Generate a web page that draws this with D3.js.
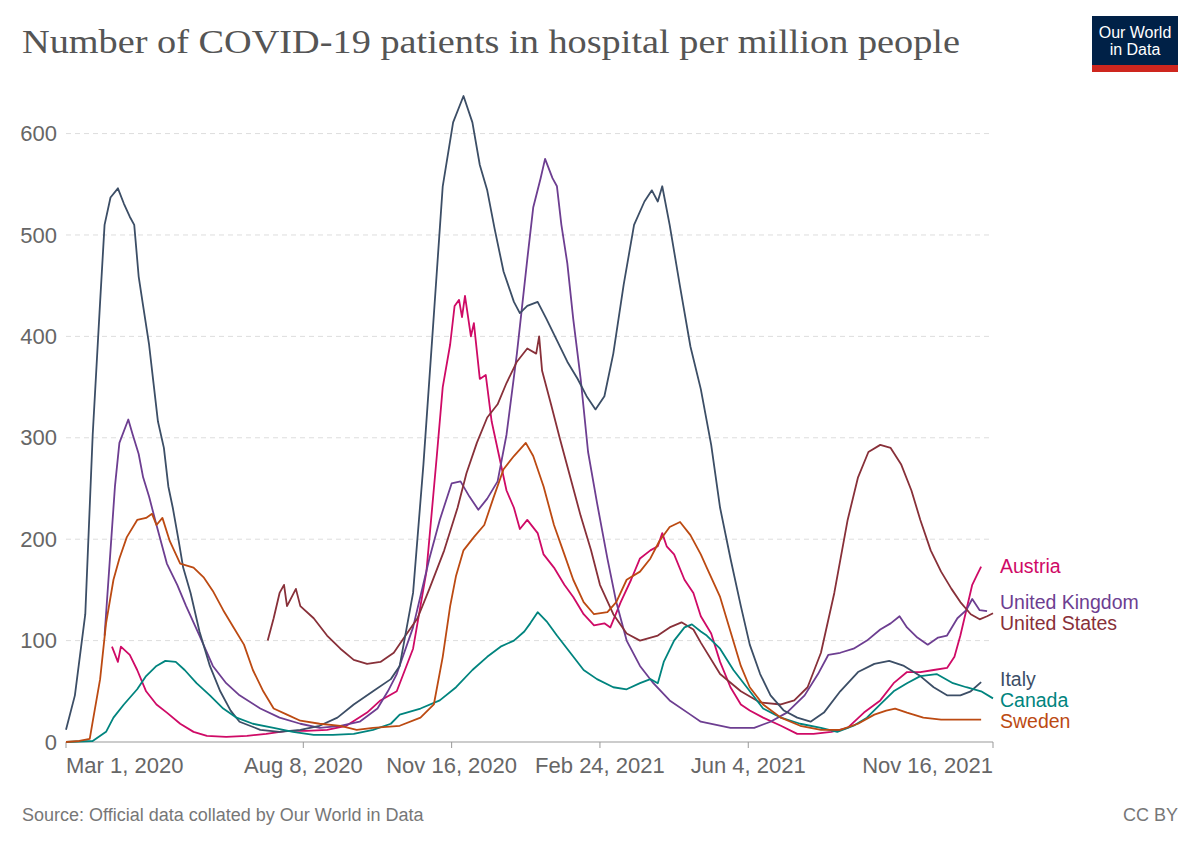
<!DOCTYPE html>
<html>
<head>
<meta charset="utf-8">
<script src="https://cdn.jsdelivr.net/npm/d3@7"></script>
<style>
  body { margin: 0; background: #fff; }
  text { font-family: "Liberation Sans", Arial, sans-serif; }
</style>
</head>
<body>
<div id="chart"></div>
<script>

// values: [date, patients in hospital per million]
var italy = [
  ["2020-03-01",12],["2020-03-07",46],["2020-03-14",126],["2020-03-19",303],["2020-03-24",434],
  ["2020-03-27",510],["2020-03-31",537],["2020-04-05",546],["2020-04-09",531],["2020-04-13",518],
  ["2020-04-16",510],["2020-04-19",459],["2020-04-22",430],["2020-04-26",392],["2020-04-29",354],
  ["2020-05-02",316],["2020-05-06",290],["2020-05-09",252],["2020-05-12",231],["2020-05-16",198],
  ["2020-05-19",172],["2020-05-24",147],["2020-05-30",109],["2020-06-06",75],["2020-06-13",50],
  ["2020-06-20",31],["2020-06-26",20],["2020-07-10",12],["2020-07-23",10],["2020-08-06",12],
  ["2020-08-19",16],["2020-08-31",24],["2020-09-11",37],["2020-09-24",50],["2020-10-06",62],
  ["2020-10-12",75],["2020-10-21",147],["2020-10-28",274],["2020-11-04",421],["2020-11-10",548],
  ["2020-11-17",611],["2020-11-24",637],["2020-11-30",611],["2020-12-05",569],["2020-12-10",544],
  ["2020-12-15",506],["2020-12-21",464],["2020-12-28",434],["2021-01-01",423],["2021-01-06",430],
  ["2021-01-13",434],["2021-01-19",417],["2021-01-26",396],["2021-02-02",375],["2021-02-09",358],
  ["2021-02-15",341],["2021-02-21",328],["2021-02-27",341],["2021-03-05",383],["2021-03-12",451],
  ["2021-03-19",510],["2021-03-26",533],["2021-03-31",544],["2021-04-04",533],["2021-04-07",548],
  ["2021-04-12",510],["2021-04-19",449],["2021-04-26",390],["2021-05-03",348],["2021-05-10",293],
  ["2021-05-16",231],["2021-05-23",181],["2021-05-30",134],["2021-06-05",96],["2021-06-12",67],
  ["2021-06-19",46],["2021-06-28",31],["2021-07-07",24],["2021-07-16",20],["2021-07-25",29],
  ["2021-08-05",50],["2021-08-17",69],["2021-08-28",77],["2021-09-07",80],["2021-09-17",75],
  ["2021-09-28",65],["2021-10-07",54],["2021-10-16",46],["2021-10-25",46],["2021-11-01",50],
  ["2021-11-08",59]
];

var unitedKingdom = [
  ["2020-03-27",105],["2020-03-31",189],["2020-04-03",252],["2020-04-06",295],["2020-04-12",318],
  ["2020-04-15",303],["2020-04-19",284],["2020-04-22",261],["2020-04-26",242],["2020-05-01",214],
  ["2020-05-08",176],["2020-05-15",155],["2020-05-21",134],["2020-05-30",105],["2020-06-08",75],
  ["2020-06-17",58],["2020-06-26",46],["2020-07-10",33],["2020-07-23",24],["2020-08-06",18],
  ["2020-08-19",14],["2020-09-02",16],["2020-09-15",20],["2020-09-27",33],["2020-10-04",50],
  ["2020-10-10",67],["2020-10-21",113],["2020-11-01",181],["2020-11-08",219],["2020-11-16",255],
  ["2020-11-22",257],["2020-11-28",242],["2020-12-04",229],["2020-12-10",240],["2020-12-17",257],
  ["2020-12-23",303],["2020-12-30",383],["2021-01-06",476],["2021-01-10",527],["2021-01-15",556],
  ["2021-01-18",575],["2021-01-23",556],["2021-01-26",548],["2021-01-29",510],["2021-02-02",472],
  ["2021-02-06",417],["2021-02-11",358],["2021-02-16",286],["2021-02-22",236],["2021-03-01",181],
  ["2021-03-07",138],["2021-03-14",100],["2021-03-23",75],["2021-04-01",58],["2021-04-12",41],
  ["2021-04-26",27],["2021-05-03",20],["2021-05-23",14],["2021-06-08",14],["2021-06-19",20],
  ["2021-06-30",29],["2021-07-12",46],["2021-07-21",67],["2021-07-28",86],["2021-08-05",88],
  ["2021-08-14",92],["2021-08-23",100],["2021-09-01",111],["2021-09-08",117],["2021-09-14",124],
  ["2021-09-19",113],["2021-09-26",103],["2021-10-03",96],["2021-10-10",103],["2021-10-16",105],
  ["2021-10-23",122],["2021-10-29",130],["2021-11-02",141],["2021-11-07",130],["2021-11-12",129]
];

var unitedStates = [
  ["2020-07-15",100],["2020-07-19",122],["2020-07-23",147],["2020-07-26",155],["2020-07-28",134],
  ["2020-08-03",151],["2020-08-06",134],["2020-08-15",122],["2020-08-24",105],["2020-09-02",92],
  ["2020-09-11",81],["2020-09-20",77],["2020-09-29",79],["2020-10-08",88],["2020-10-15",103],
  ["2020-10-24",122],["2020-11-01",151],["2020-11-11",189],["2020-11-20",231],["2020-11-26",265],
  ["2020-12-03",295],["2020-12-10",320],["2020-12-17",333],["2020-12-23",354],["2020-12-30",375],
  ["2021-01-06",388],["2021-01-12",383],["2021-01-14",400],["2021-01-16",366],["2021-01-22",333],
  ["2021-01-28",299],["2021-02-04",261],["2021-02-11",223],["2021-02-18",189],["2021-02-24",155],
  ["2021-03-05",126],["2021-03-14",107],["2021-03-23",100],["2021-04-04",105],["2021-04-12",113],
  ["2021-04-20",118],["2021-04-28",111],["2021-05-03",98],["2021-05-16",67],["2021-05-30",50],
  ["2021-06-12",39],["2021-06-26",37],["2021-07-05",41],["2021-07-14",54],["2021-07-23",88],
  ["2021-08-01",147],["2021-08-10",219],["2021-08-17",261],["2021-08-24",286],["2021-09-01",293],
  ["2021-09-08",290],["2021-09-15",274],["2021-09-22",248],["2021-09-28",219],["2021-10-05",189],
  ["2021-10-12",168],["2021-10-19",151],["2021-10-25",138],["2021-11-01",126],["2021-11-07",121],
  ["2021-11-12",124],["2021-11-16",127]
];

var austria = [
  ["2020-04-01",94],["2020-04-05",79],["2020-04-07",94],["2020-04-13",86],["2020-04-18",71],
  ["2020-04-24",50],["2020-05-01",37],["2020-05-08",29],["2020-05-17",18],["2020-05-26",10],
  ["2020-06-04",6],["2020-06-17",5],["2020-07-01",6],["2020-07-14",8],["2020-07-28",11],
  ["2020-08-10",11],["2020-08-24",12],["2020-09-06",16],["2020-09-20",29],["2020-09-29",41],
  ["2020-10-10",50],["2020-10-21",92],["2020-10-30",168],["2020-11-06",282],["2020-11-10",350],
  ["2020-11-15",392],["2020-11-18",430],["2020-11-21",436],["2020-11-23",419],["2020-11-25",440],
  ["2020-11-29",400],["2020-12-01",413],["2020-12-05",358],["2020-12-09",362],["2020-12-13",316],
  ["2020-12-18",282],["2020-12-23",248],["2020-12-28",231],["2021-01-01",210],["2021-01-06",219],
  ["2021-01-13",206],["2021-01-17",185],["2021-01-24",172],["2021-01-31",155],["2021-02-06",143],
  ["2021-02-13",126],["2021-02-20",115],["2021-02-27",117],["2021-03-03",113],["2021-03-10",138],
  ["2021-03-17",160],["2021-03-23",181],["2021-03-30",189],["2021-04-04",193],["2021-04-07",206],
  ["2021-04-10",193],["2021-04-15",185],["2021-04-22",160],["2021-04-28",147],["2021-05-03",124],
  ["2021-05-10",107],["2021-05-16",79],["2021-05-23",54],["2021-05-30",37],["2021-06-05",31],
  ["2021-06-14",24],["2021-06-26",16],["2021-07-07",8],["2021-07-18",8],["2021-07-30",10],
  ["2021-08-10",14],["2021-08-21",29],["2021-09-01",41],["2021-09-10",58],["2021-09-19",69],
  ["2021-09-28",69],["2021-10-07",71],["2021-10-16",73],["2021-10-21",84],["2021-10-25",105],
  ["2021-10-29",130],["2021-11-02",155],["2021-11-05",164],["2021-11-08",173]
];

var canada = [
  ["2020-03-01",0],["2020-03-19",1],["2020-03-28",10],["2020-04-02",24],["2020-04-09",37],
  ["2020-04-18",52],["2020-04-24",65],["2020-05-01",75],["2020-05-07",80],["2020-05-14",79],
  ["2020-05-20",71],["2020-05-28",58],["2020-06-06",46],["2020-06-15",33],["2020-06-24",24],
  ["2020-07-05",18],["2020-07-19",14],["2020-08-01",10],["2020-08-15",7],["2020-08-28",7],
  ["2020-09-11",8],["2020-09-24",12],["2020-10-06",18],["2020-10-12",27],["2020-10-26",33],
  ["2020-11-08",41],["2020-11-19",54],["2020-11-30",71],["2020-12-10",84],["2020-12-19",94],
  ["2020-12-28",100],["2021-01-04",109],["2021-01-08",117],["2021-01-13",128],["2021-01-19",119],
  ["2021-01-26",105],["2021-02-04",88],["2021-02-13",71],["2021-02-22",62],["2021-03-05",54],
  ["2021-03-14",52],["2021-03-23",58],["2021-03-30",62],["2021-04-04",58],["2021-04-08",79],
  ["2021-04-15",100],["2021-04-22",113],["2021-04-27",116],["2021-05-03",109],["2021-05-07",105],
  ["2021-05-16",92],["2021-05-25",71],["2021-06-03",54],["2021-06-14",33],["2021-06-26",24],
  ["2021-07-09",18],["2021-07-23",14],["2021-08-03",10],["2021-08-14",16],["2021-08-23",24],
  ["2021-09-01",37],["2021-09-10",50],["2021-09-19",58],["2021-09-28",65],["2021-10-09",67],
  ["2021-10-20",58],["2021-10-29",54],["2021-11-08",50],["2021-11-16",43]
];

var sweden = [
  ["2020-03-01",0],["2020-03-10",1],["2020-03-17",3],["2020-03-19",20],["2020-03-24",62],
  ["2020-03-28",117],["2020-04-02",160],["2020-04-06",181],["2020-04-11",202],["2020-04-18",219],
  ["2020-04-24",221],["2020-04-28",225],["2020-05-01",214],["2020-05-05",221],["2020-05-10",198],
  ["2020-05-17",176],["2020-05-26",172],["2020-06-02",162],["2020-06-08",149],["2020-06-15",130],
  ["2020-06-22",113],["2020-06-29",96],["2020-07-05",71],["2020-07-12",50],["2020-07-19",33],
  ["2020-07-28",27],["2020-08-06",21],["2020-08-19",18],["2020-09-02",16],["2020-09-13",12],
  ["2020-09-24",14],["2020-10-12",16],["2020-10-26",24],["2020-11-04",37],["2020-11-10",84],
  ["2020-11-15",134],["2020-11-19",164],["2020-11-24",189],["2020-12-01",202],["2020-12-08",214],
  ["2020-12-14",240],["2020-12-21",269],["2020-12-28",282],["2021-01-05",295],["2021-01-10",282],
  ["2021-01-17",252],["2021-01-24",214],["2021-01-31",185],["2021-02-06",160],["2021-02-13",138],
  ["2021-02-20",126],["2021-03-01",128],["2021-03-07",138],["2021-03-14",160],["2021-03-23",168],
  ["2021-03-30",181],["2021-04-05",198],["2021-04-12",212],["2021-04-19",217],["2021-04-26",204],
  ["2021-05-03",185],["2021-05-07",172],["2021-05-16",143],["2021-05-23",109],["2021-05-30",75],
  ["2021-06-05",54],["2021-06-14",37],["2021-06-26",24],["2021-07-09",16],["2021-07-23",12],
  ["2021-08-05",12],["2021-08-17",18],["2021-08-28",27],["2021-09-05",31],["2021-09-11",33],
  ["2021-09-19",29],["2021-09-30",24],["2021-10-12",22],["2021-10-23",22],["2021-11-01",22],
  ["2021-11-08",22]
];

var countries = ["Austria", "United Kingdom", "United States", "Italy", "Canada", "Sweden"];
var countryData = [austria, unitedKingdom, unitedStates, italy, canada, sweden];
var countryColors = ["#CF0A66", "#6D3E91", "#883039", "#3C4E66", "#00847E", "#BC4A12"];

var yTicks = [0, 100, 200, 300, 400, 500, 600];
var xTicks = ["2020-03-01", "2020-08-08", "2020-11-16", "2021-02-24", "2021-06-04", "2021-11-16"];
var xTickLabels = ["Mar 1, 2020", "Aug 8, 2020", "Nov 16, 2020", "Feb 24, 2021", "Jun 4, 2021", "Nov 16, 2021"];

var parse = d3.utcParse("%Y-%m-%d");

var W = 1200, H = 847,
    margin = { top: 93, right: 207, bottom: 105, left: 66 },
    width = W - margin.left - margin.right,
    height = H - margin.top - margin.bottom;

var x = d3.scaleUtc()
    .domain([ parse(xTicks[0]), parse(xTicks[xTicks.length - 1]) ])
    .range([ 0, width ]);

var y = d3.scaleLinear()
    .domain([ 0, 640 ])
    .range([ height, 0 ]);

var svg = d3.select("#chart").append("svg")
    .attr("width", W)
    .attr("height", H);

// title + logo
svg.append("text")
    .attr("x", 22)
    .attr("y", 53)
    .attr("fill", "#555")
    .attr("textLength", 938)
    .attr("lengthAdjust", "spacingAndGlyphs")
    .style("font-family", "'Liberation Serif', 'DejaVu Serif', serif")
    .style("font-size", "34px")
    .text("Number of COVID-19 patients in hospital per million people");

var logo = svg.append("g").attr("transform", "translate(1092,16)");
logo.append("rect").attr("width", 86).attr("height", 56).attr("fill", "#002147");
logo.append("rect").attr("y", 49).attr("width", 86).attr("height", 7).attr("fill", "#CE261E");
logo.selectAll("text.logo").data(["Our World", "in Data"]).enter()
  .append("text")
    .attr("class", "logo")
    .attr("x", 43)
    .attr("y", (d, i) => 22 + i * 17)
    .attr("text-anchor", "middle")
    .attr("fill", "#fff")
    .style("font-family", "'Liberation Sans Narrow', 'Liberation Sans', sans-serif")
    .style("font-size", "16px")
    .text(String);

var g = svg.append("g")
    .attr("transform", `translate(${margin.left},${margin.top})`);

// grid
g.append("g").selectAll("line")
    .data(yTicks.filter(d => d > 0)).enter()
  .append("line")
    .attr("x1", 0).attr("x2", width)
    .attr("y1", y).attr("y2", y)
    .attr("stroke", "#ddd")
    .attr("stroke-dasharray", "5,4");

g.append("g").selectAll("text")
    .data(yTicks).enter()
  .append("text")
    .attr("x", -9)
    .attr("y", y)
    .attr("dy", "0.35em")
    .attr("text-anchor", "end")
    .attr("fill", "#666")
    .style("font-size", "22px")
    .text(String);

// x axis
var xAxis = g.append("g").attr("transform", `translate(0,${height})`);
xAxis.append("line")
    .attr("x1", 0).attr("x2", width)
    .attr("stroke", "#999");
xAxis.selectAll("line.tick")
    .data(xTicks).enter()
  .append("line")
    .attr("class", "tick")
    .attr("x1", d => x(parse(d))).attr("x2", d => x(parse(d)))
    .attr("y1", 0).attr("y2", 6)
    .attr("stroke", "#999");
xAxis.selectAll("text")
    .data(xTicks).enter()
  .append("text")
    .attr("x", d => x(parse(d)))
    .attr("y", 31)
    .attr("text-anchor", (d, i) => i == 0 ? "start" : i == xTicks.length - 1 ? "end" : "middle")
    .attr("fill", "#666")
    .style("font-size", "22px")
    .text((d, i) => xTickLabels[i]);

// lines
var line = d3.line()
    .x(d => x(parse(d[0])))
    .y(d => y(d[1]));

g.append("g").selectAll("path")
    .data(countryData).enter()
  .append("path")
    .attr("d", line)
    .attr("fill", "none")
    .attr("stroke", (d, i) => countryColors[i])
    .attr("stroke-width", 1.8)
    .attr("stroke-linejoin", "round");

// end labels, pushed apart so they don't overlap
var labels = countries.map((c, i) => {
  var last = countryData[i][countryData[i].length - 1];
  return { name: c, color: countryColors[i], y: y(last[1]) };
});
labels.sort((a, b) => a.y - b.y);
for (var k = 0; k < 60; k++) {
  for (var j = 1; j < labels.length; j++) {
    var gap = labels[j].y - labels[j - 1].y;
    if (gap < 21) {
      labels[j].y += (21 - gap) / 2;
      labels[j - 1].y -= (21 - gap) / 2;
    }
  }
}

g.append("g").selectAll("text")
    .data(labels).enter()
  .append("text")
    .attr("x", width + 7)
    .attr("y", d => d.y)
    .attr("dy", "0.35em")
    .attr("fill", d => d.color)
    .style("font-size", "19.5px")
    .text(d => d.name);

// footer
svg.append("text")
    .attr("x", 22)
    .attr("y", 821)
    .attr("fill", "#777")
    .style("font-size", "18px")
    .text("Source: Official data collated by Our World in Data");

svg.append("text")
    .attr("x", 1178)
    .attr("y", 821)
    .attr("text-anchor", "end")
    .attr("fill", "#777")
    .style("font-size", "18px")
    .text("CC BY");

</script>
</body>
</html>
